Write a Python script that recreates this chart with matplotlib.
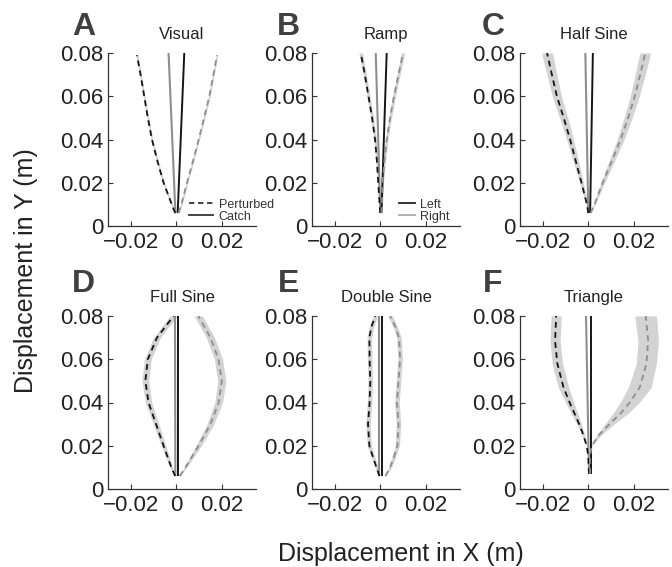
import matplotlib
matplotlib.use("Agg")
import matplotlib.pyplot as plt
from matplotlib.lines import Line2D

plt.rcParams['font.family'] = ['Liberation Sans', 'DejaVu Sans']

# ---------------- data ----------------
titles = ["Visual", "Ramp", "Half Sine", "Full Sine", "Double Sine", "Triangle"]
letters = ["A", "B", "C", "D", "E", "F"]

xticks = [-0.02, 0, 0.02]
xticklabels = ["\u22120.02", "0", "0.02"]
yticks = [0, 0.02, 0.04, 0.06, 0.08]
yticklabels = ["0", "0.02", "0.04", "0.06", "0.08"]

# A - Visual
yA = [0.006, 0.01, 0.02, 0.03, 0.04, 0.05, 0.06, 0.07, 0.079]
leftA = [-0.0005, -0.002, -0.0056, -0.0083, -0.0107, -0.0125, -0.0141, -0.0157, -0.0173]
rightA = [0.001, 0.0022, 0.0047, 0.0073, 0.0098, 0.0122, 0.0145, 0.0163, 0.0179]
lhwA = [0.0002, 0.0004, 0.0004, 0.0004, 0.0004, 0.0004, 0.0004, 0.0004, 0.0004]
rhwA = [0.0002, 0.0004, 0.0004, 0.0004, 0.0004, 0.0004, 0.0004, 0.0004, 0.0004]
catchYA = [0.006, 0.08]
catchLA = [0.0006, 0.0035]
catchRA = [-0.0004, -0.0034]

# B - Ramp
yB = [0.006, 0.01, 0.02, 0.03, 0.04, 0.05, 0.06, 0.07, 0.08]
leftB = [0.0, -0.0003, -0.0009, -0.0015, -0.0023, -0.0036, -0.0052, -0.0068, -0.0086]
rightB = [0.0005, 0.0007, 0.001, 0.0018, 0.0028, 0.0043, 0.006, 0.008, 0.010]
lhwB = [0.0002, 0.0003, 0.0004, 0.0005, 0.0006, 0.0006, 0.0007, 0.0007, 0.0008]
rhwB = [0.0002, 0.0003, 0.0004, 0.0005, 0.0006, 0.0006, 0.0007, 0.0007, 0.0008]
catchYB = [0.006, 0.08]
catchLB = [0.0005, 0.0028]
catchRB = [0.0, -0.002]

# C - Half Sine
yC = [0.006, 0.01, 0.02, 0.03, 0.04, 0.05, 0.06, 0.07, 0.08]
leftC = [0.0, -0.0006, -0.0030, -0.0055, -0.0080, -0.0108, -0.0138, -0.0160, -0.0181]
rightC = [0.001, 0.0027, 0.0063, 0.0103, 0.0142, 0.0175, 0.0204, 0.0228, 0.025]
lhwC = [0.0001, 0.0004, 0.0008, 0.0012, 0.0015, 0.0018, 0.002, 0.0022, 0.0024]
rhwC = [0.0001, 0.0004, 0.0008, 0.0012, 0.0015, 0.0018, 0.002, 0.0022, 0.0024]
catchYC = [0.006, 0.08]
catchLC = [0.0008, 0.002]
catchRC = [0.0, -0.0013]

# D - Full Sine
yD = [0.006, 0.01, 0.02, 0.03, 0.04, 0.05, 0.06, 0.07, 0.08]
leftD = [-0.0005, -0.0022, -0.0056, -0.0089, -0.0122, -0.0136, -0.0125, -0.0085, -0.0012]
rightD = [0.0015, 0.004, 0.0098, 0.015, 0.0186, 0.020, 0.0185, 0.015, 0.0097]
lhwD = [0.0002, 0.0006, 0.001, 0.0012, 0.0014, 0.0015, 0.0015, 0.0015, 0.0016]
rhwD = [0.0002, 0.0006, 0.0012, 0.0015, 0.0017, 0.0018, 0.0018, 0.0018, 0.0018]
catchYD = [0.006, 0.08]
catchLD = [0.0008, 0.0008]
catchRD = [-0.0004, -0.0006]

# E - Double Sine
yE = [0.006, 0.01, 0.015, 0.02, 0.03, 0.04, 0.05, 0.06, 0.07, 0.075, 0.08]
leftE = [-0.0004, -0.0017, -0.0033, -0.0048, -0.0054, -0.0047, -0.0044, -0.0047, -0.0048, -0.0039, -0.0022]
rightE = [0.0022, 0.0043, 0.006, 0.0075, 0.008, 0.0073, 0.008, 0.0087, 0.0082, 0.0066, 0.0043]
lhwE = [0.0003, 0.0006, 0.0008, 0.0009, 0.001, 0.001, 0.001, 0.001, 0.001, 0.001, 0.001]
rhwE = [0.0003, 0.0006, 0.0008, 0.0009, 0.001, 0.001, 0.001, 0.001, 0.001, 0.001, 0.001]
catchYE = [0.006, 0.08]
catchLE = [0.0008, 0.0008]
catchRE = [-0.0004, -0.0004]

# F - Triangle
yF = [0.007, 0.015, 0.02, 0.025, 0.03, 0.035, 0.04, 0.047, 0.058, 0.0685, 0.08]
leftF = [0.0003, 0.0, -0.0007, -0.0022, -0.004, -0.0061, -0.0082, -0.0109, -0.0136, -0.0146, -0.0141]
rightF = [0.0008, 0.0007, 0.0015, 0.0047, 0.0093, 0.0142, 0.0182, 0.0226, 0.0255, 0.0263, 0.0252]
lhwF = [0.0, 0.0, 0.0002, 0.0006, 0.001, 0.0014, 0.0018, 0.0023, 0.0023, 0.0022, 0.0022]
rhwF = [0.0, 0.0, 0.0002, 0.001, 0.002, 0.0033, 0.0042, 0.005, 0.0044, 0.0045, 0.0048]
catchYF = [0.007, 0.08]
catchLF = [0.0012, 0.0012]
catchRF = [0.0003, -0.001]

panels = [
    (yA, leftA, rightA, lhwA, rhwA, catchYA, catchLA, catchRA),
    (yB, leftB, rightB, lhwB, rhwB, catchYB, catchLB, catchRB),
    (yC, leftC, rightC, lhwC, rhwC, catchYC, catchLC, catchRC),
    (yD, leftD, rightD, lhwD, rhwD, catchYD, catchLD, catchRD),
    (yE, leftE, rightE, lhwE, rhwE, catchYE, catchLE, catchRE),
    (yF, leftF, rightF, lhwF, rhwF, catchYF, catchLF, catchRF),
]

# ---------------- styling / layout ----------------
W, H = 672, 567
fig = plt.figure(figsize=(W / 100, H / 100), dpi=100)

col_left = [108, 312, 520]
row_top = [53, 316]
ax_w, ax_h = 148, 173

band_col = '#d3d3d3'
blk = '#151515'
gry = '#8e8e8e'
axcol = '#333333'
txtcol = '#222222'

letter_pos = [(72, 35), (277, 35), (482, 35), (72, 292), (278, 292), (483, 292)]

for i, (y, lx, rx, lhw, rhw, cy, cl, cr) in enumerate(panels):
    r, c = divmod(i, 3)
    left = col_left[c] / W
    bottom = (H - (row_top[r] + ax_h)) / H
    ax = fig.add_axes([left, bottom, ax_w / W, ax_h / H])

    ax.fill_betweenx(y, [a - b for a, b in zip(lx, lhw)], [a + b for a, b in zip(lx, lhw)],
                     color=band_col, lw=0, zorder=1)
    ax.fill_betweenx(y, [a - b for a, b in zip(rx, rhw)], [a + b for a, b in zip(rx, rhw)],
                     color=band_col, lw=0, zorder=1)
    ax.plot(cr, cy, color=gry, lw=1.5, solid_capstyle='butt', zorder=2)
    ax.plot(cl, cy, color=blk, lw=1.4, solid_capstyle='butt', zorder=2)
    ax.plot(lx, y, color=blk, lw=1.3, ls=(0, (3.2, 2.4)), zorder=3)
    ax.plot(rx, y, color=gry, lw=1.3, ls=(0, (3.2, 2.4)), zorder=3)

    ax.set_xlim(-0.03, 0.035)
    ax.set_ylim(0, 0.08)
    ax.set_xticks(xticks)
    ax.set_xticklabels(xticklabels)
    ax.set_yticks(yticks)
    ax.set_yticklabels(yticklabels)
    for s in ['top', 'right']:
        ax.spines[s].set_visible(False)
    for s in ['left', 'bottom']:
        ax.spines[s].set_color(axcol)
        ax.spines[s].set_linewidth(0.9)
    ax.tick_params(direction='in', length=3.5, width=0.8, color=axcol,
                   labelsize=16, labelcolor=txtcol)
    ax.tick_params(axis='x', pad=4)
    ax.tick_params(axis='y', pad=3)
    ax.set_title(titles[i], fontsize=12, color=txtcol, pad=10)

    lxp, lyp = letter_pos[i]
    fig.text(lxp / W, 1 - lyp / H, letters[i], fontsize=23, fontweight='bold',
             color='#404040', ha='left', va='baseline')

    if i == 0:
        hs = [Line2D([], [], color='#333333', lw=1.3, ls=(0, (3, 2))),
              Line2D([], [], color='#333333', lw=1.3)]
        ax.legend(hs, ["Perturbed", "Catch"], loc='lower left',
                  bbox_to_anchor=(0.55, 0.02), frameon=False, fontsize=9,
                  handlelength=1.85, handletextpad=0.5, labelspacing=0.0,
                  borderpad=0, borderaxespad=0, labelcolor='#333333')
    if i == 1:
        hs = [Line2D([], [], color='#222222', lw=1.3),
              Line2D([], [], color='#aaaaaa', lw=1.3)]
        ax.legend(hs, ["Left", "Right"], loc='lower left',
                  bbox_to_anchor=(0.585, 0.02), frameon=False, fontsize=9,
                  handlelength=1.35, handletextpad=0.4, labelspacing=0.0,
                  borderpad=0, borderaxespad=0, labelcolor='#333333')

fig.text(278 / W, 1 - 561 / H, "Displacement in X (m)", fontsize=18, color=txtcol,
         ha='left', va='baseline')
fig.text(26 / W, 1 - 393 / H, "Displacement in Y (m)", fontsize=18, color=txtcol,
         rotation=90, ha='center', va='bottom')

fig.savefig("out.png", dpi=100)
